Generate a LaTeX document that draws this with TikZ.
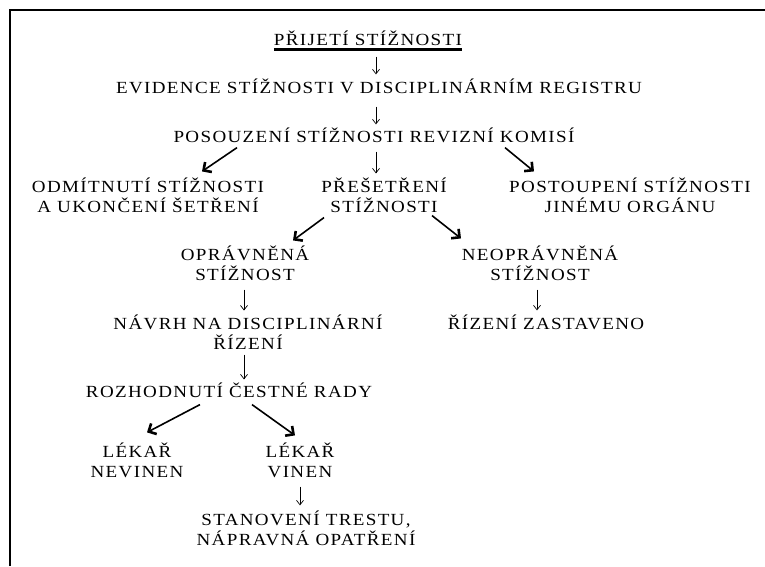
\documentclass[tikz,border=0pt]{standalone}
\usepackage{fontspec}
\setmainfont{Liberation Serif}[FakeStretch=1.12,LetterSpace=8]
\usetikzlibrary{arrows.meta}

\begin{document}
\begin{tikzpicture}[x=1pt,y=-1pt,
		popis/.style={align=center,inner sep=0pt,font=\fontsize{17}{20}\selectfont},
		sipka/.style={line width=0.7pt,-{Straight Barb[length=4.5pt,width=7pt]}},
		silna/.style={line width=1.6pt,-{Straight Barb[length=6pt,width=12pt,line width=2.6pt]}}]
			\useasboundingbox (0,0) rectangle (765,566);
			\draw[line width=2.8pt] (10,566) -- (10,10) -- (765,10);
			\node[popis] (prijeti) at (368,38) {PŘIJETÍ STÍŽNOSTI};
			\draw[line width=2.2pt] ([yshift=-4pt]prijeti.south west) -- ([yshift=-4pt]prijeti.south east);
			\node[popis] (evidence) at (379,86) {EVIDENCE STÍŽNOSTI V DISCIPLINÁRNÍM REGISTRU};
			\node[popis] (posouzeni) at (374,135) {POSOUZENÍ STÍŽNOSTI REVIZNÍ KOMISÍ};
			\node[popis] (odmitnuti) at (148,195) {ODMÍTNUTÍ STÍŽNOSTI\\A UKONČENÍ ŠETŘENÍ};
			\node[popis] (presetreni) at (384,195) {PŘEŠETŘENÍ\\STÍŽNOSTI};
			\node[popis] (postoupeni) at (630,195) {POSTOUPENÍ STÍŽNOSTI\\JINÉMU ORGÁNU};
			\node[popis] (opravnena) at (245,263) {OPRÁVNĚNÁ\\STÍŽNOST};
			\node[popis] (neopravnena) at (540,263) {NEOPRÁVNĚNÁ\\STÍŽNOST};
			\node[popis] (navrh) at (248,332) {NÁVRH NA DISCIPLINÁRNÍ\\ŘÍZENÍ};
			\node[popis] (zastaveno) at (546,322) {ŘÍZENÍ ZASTAVENO};
			\node[popis] (rozhodnuti) at (229,390) {ROZHODNUTÍ ČESTNÉ RADY};
			\node[popis] (nevinen) at (137,460) {LÉKAŘ\\NEVINEN};
			\node[popis] (vinen) at (300,460) {LÉKAŘ\\VINEN};
			\node[popis] (trest) at (306,528) {STANOVENÍ TRESTU,\\NÁPRAVNÁ OPATŘENÍ};
			\draw[sipka] ([xshift=8pt,yshift=-11pt]prijeti.south) -- ([xshift=-3pt,yshift=4pt]evidence.north);
			\draw[sipka] ([xshift=-3pt,yshift=-13pt]evidence.south) -- ([xshift=2pt,yshift=3pt]posouzeni.north);
			\draw[silna] ([xshift=-137pt,yshift=-5pt]posouzeni.south) -- ([xshift=54pt,yshift=6pt]odmitnuti.north);
			\draw[sipka] ([xshift=2pt,yshift=-9pt]posouzeni.south) -- ([xshift=-8pt,yshift=4pt]presetreni.north);
			\draw[silna] ([xshift=131pt,yshift=-5pt]posouzeni.south) -- ([xshift=-96pt,yshift=6pt]postoupeni.north);
			\draw[silna] ([xshift=-60pt,yshift=-5pt]presetreni.south) -- ([xshift=48pt,yshift=5pt]opravnena.north);
			\draw[silna] ([xshift=48pt,yshift=-3pt]presetreni.south) -- ([xshift=-79pt,yshift=7pt]neopravnena.north);
			\draw[sipka] ([xshift=-1pt,yshift=-9pt]opravnena.south) -- ([xshift=-4pt,yshift=4pt]navrh.north);
			\draw[sipka] ([xshift=-3pt,yshift=-9pt]neopravnena.south) -- ([xshift=-9pt,yshift=4pt]zastaveno.north);
			\draw[sipka] ([xshift=-4pt,yshift=-5pt]navrh.south) -- ([xshift=15pt,yshift=3pt]rozhodnuti.north);
			\draw[silna] ([xshift=-29pt,yshift=-7pt]rozhodnuti.south) -- ([xshift=10pt,yshift=10pt]nevinen.north);
			\draw[silna] ([xshift=23pt,yshift=-7pt]rozhodnuti.south) -- ([xshift=-5pt,yshift=7pt]vinen.north);
			\draw[sipka] ([yshift=-9pt]vinen.south) -- ([xshift=-6pt,yshift=5pt]trest.north);
		\end{tikzpicture}
\end{document}
